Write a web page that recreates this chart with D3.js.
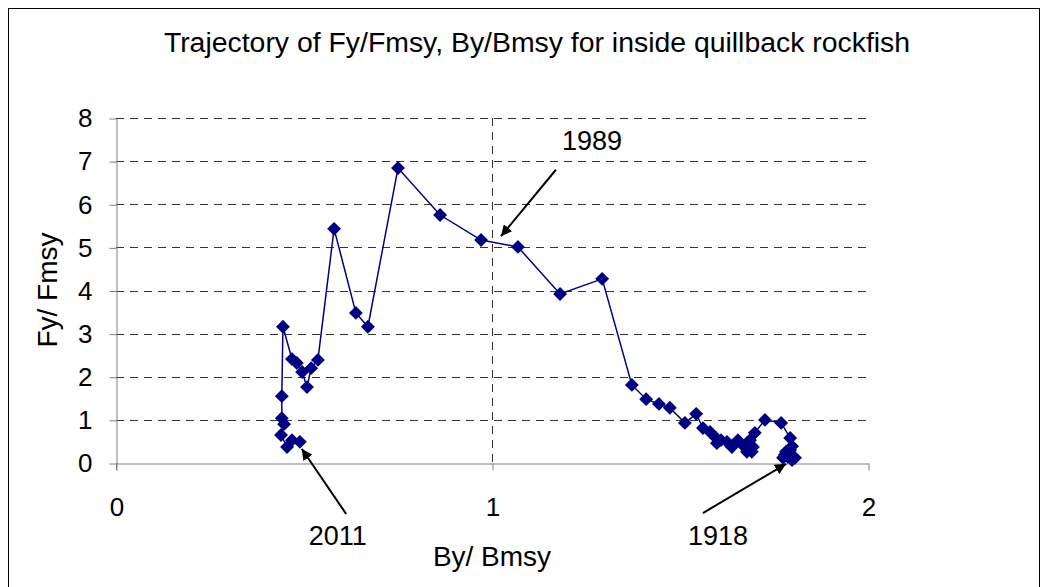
<!DOCTYPE html>
<html lang="en">
<head>
<meta charset="UTF-8">
<title>Trajectory</title>
<script src="https://cdn.jsdelivr.net/npm/d3@7"></script>
<style>
	body{margin:0;background:#fff;}
	svg{display:block;font-family:"Liberation Sans",Arial,sans-serif;}
	.grid line{stroke:#333;stroke-dasharray:8,6;}
</style>
</head>
<body>
<svg id="svg" width="1045" height="587"></svg>
<script>
// By/Bmsy and Fy/Fmsy, 1918 -> 2011
var bRatio = [1.806,1.798,1.787,1.779,1.774,1.782,1.793,1.798,1.793,1.769,1.726,1.699,1.686,1.678,1.691,1.694,1.678,1.670,1.654,1.638,1.625,1.609,1.598,1.596,1.580,1.561,1.543,1.513,1.473,1.444,1.410,1.372,1.293,1.181,1.069,0.971,0.862,0.750,0.670,0.638,0.580,0.537,0.519,0.508,0.495,0.481,0.468,0.444,0.441,0.441,0.447,0.439,0.455,0.468,0.489];
var fRatio = [0.12,0.07,0.14,0.19,0.12,0.26,0.30,0.39,0.58,0.93,1.00,0.70,0.53,0.46,0.26,0.37,0.26,0.39,0.53,0.37,0.49,0.53,0.46,0.58,0.72,0.81,1.14,0.93,1.28,1.37,1.48,1.81,4.27,3.92,5.01,5.17,5.75,6.84,3.16,3.48,5.43,2.39,2.20,1.76,2.11,2.32,2.41,3.16,1.55,1.04,0.90,0.65,0.37,0.53,0.49];
var xTicks = [0,1,2];
var yTicks = [0,1,2,3,4,5,6,7,8];
// annotation: label, label pos, arrow start, arrow tip (data units)
var noteLabels = ["1989","2011","1918"];
var noteText = [[1.266,7.26],[0.590,-1.90],[1.601,-1.90]];
var noteFrom = [[1.170,6.80],[0.612,-1.18],[1.561,-1.16]];
var noteTo = [[1.024,5.26],[0.494,0.33],[1.782,-0.02]];

var svg = d3.select("svg");
var x = d3.scaleLinear().domain([0,2]).range([116,868]);
var y = d3.scaleLinear().domain([0,8]).range([463,118]);

svg.append("rect").attr("x",8.5).attr("y",8.5).attr("width",1031).attr("height",600)
	.attr("fill","none").attr("stroke","#000").attr("stroke-width",1);

svg.append("text").attr("x",537).attr("y",52).attr("text-anchor","middle")
	.attr("font-size",28.4).text("Trajectory of Fy/Fmsy, By/Bmsy for inside quillback rockfish");

var grid = svg.append("g").attr("class","grid");
grid.selectAll(".h").data(yTicks.slice(1)).enter().append("line")
	.attr("x1",x(0)).attr("x2",x(2))
	.attr("y1",d=>Math.round(y(d))+0.5).attr("y2",d=>Math.round(y(d))+0.5);
grid.append("line").attr("x1",Math.round(x(1))+0.5).attr("x2",Math.round(x(1))+0.5)
	.attr("y1",y(8)).attr("y2",y(0));

var yAxis = svg.append("g").attr("transform","translate(116.5,0.5)")
	.call(d3.axisLeft(y).tickValues(yTicks).tickSize(7).tickSizeOuter(0).tickPadding(17).tickFormat(d3.format("d")));
var xAxis = svg.append("g").attr("transform","translate(0.5,463.5)")
	.call(d3.axisBottom(x).tickValues(xTicks).tickSize(7).tickSizeOuter(0).tickPadding(27).tickFormat(d3.format("d")));
[xAxis,yAxis].forEach(a=>{
	a.select(".domain").attr("stroke","#808080");
	a.selectAll(".tick line").attr("stroke","#808080");
	a.selectAll("text").attr("font-size",26).attr("fill","#000").attr("font-family","Liberation Sans, Arial, sans-serif");
});
// extend axis lines to meet
svg.append("line").attr("x1",116.5).attr("x2",116.5).attr("y1",463).attr("y2",470).attr("stroke","#808080");

svg.append("text").attr("x",492).attr("y",566).attr("text-anchor","middle")
	.attr("font-size",28).text("By/ Bmsy");
svg.append("text").attr("transform","translate(57,290) rotate(-90)").attr("text-anchor","middle")
	.attr("font-size",28).text("Fy/ Fmsy");

var pts = bRatio.map((b,i)=>[b,fRatio[i]]);
svg.append("path").datum(pts)
	.attr("d",d3.line().x(d=>x(d[0])).y(d=>y(d[1])))
	.attr("fill","none").attr("stroke","#000080").attr("stroke-width",1.5);
svg.selectAll(".pt").data(pts).enter().append("path")
	.attr("class","pt")
	.attr("d",d3.symbol().type(d3.symbolSquare).size(96))
	.attr("transform",d=>"translate("+x(d[0])+","+y(d[1])+") rotate(45)")
	.attr("fill","#000080");

svg.append("defs").append("marker").attr("id","arr")
	.attr("viewBox","0 0 10 10").attr("refX",10).attr("refY",5)
	.attr("markerWidth",11).attr("markerHeight",11).attr("markerUnits","userSpaceOnUse")
	.attr("orient","auto")
	.append("path").attr("d","M0,0L10,5L0,10Z").attr("fill","#000");

noteLabels.forEach((t,i)=>{
	svg.append("line")
		.attr("x1",x(noteFrom[i][0])).attr("y1",y(noteFrom[i][1]))
		.attr("x2",x(noteTo[i][0])).attr("y2",y(noteTo[i][1]))
		.attr("stroke","#000").attr("stroke-width",2).attr("marker-end","url(#arr)");
	svg.append("text").attr("x",x(noteText[i][0])).attr("y",y(noteText[i][1]))
		.attr("text-anchor","middle").attr("font-size",27).text(t);
});
</script>
</body>
</html>
